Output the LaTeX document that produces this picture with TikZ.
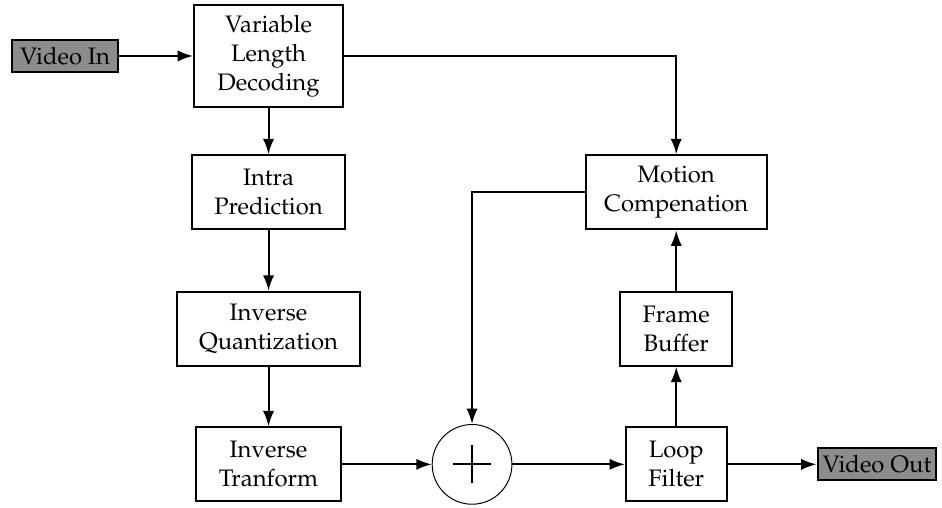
\documentclass[tikz,border=0pt]{standalone}
\usepackage[T1]{fontenc}
\usepackage{mathpazo}
\usepackage{tikz}
\usetikzlibrary{arrows, arrows.meta}

\tikzset{
  block/.style={draw, line width=0.8pt, align=center, minimum height=1.06cm, inner sep=1pt,
    font=\fontsize{9.7}{11.8}\selectfont},
  iobox/.style={draw, line width=0.8pt, fill=black!45, minimum height=0.46cm, inner sep=1pt,
    font=\fontsize{9.7}{11.8}\selectfont},
  link/.style={line width=0.8pt, ->, >={Latex[length=2.2mm,width=1.6mm]}}
}

\begin{document}
\begin{tikzpicture}
\useasboundingbox (0,0) rectangle (13.47,-7.26);

%decoding chain
\node[iobox, minimum width=1.52cm] (vin) at (0.93,-0.80) {Video In};
\node[block, minimum width=2.13cm, minimum height=1.46cm] (vld) at (3.84,-0.80) {Variable\\Length\\Decoding};
\node[block, minimum width=2.19cm] (intra) at (3.84,-2.75) {Intra\\Prediction};
\node[block, minimum width=2.62cm] (iq) at (3.84,-4.70) {Inverse\\Quantization};
\node[block, minimum width=2.07cm] (it) at (3.84,-6.64) {Inverse\\Tranform};

%sum
\node[draw, circle, line width=0.4pt, minimum size=1.14cm] (sum) at (6.75,-6.64) {};
\draw[line width=0.9pt] ([xshift=-0.27cm]sum.center) -- ([xshift=0.27cm]sum.center);
\draw[line width=0.9pt] ([yshift=-0.27cm]sum.center) -- ([yshift=0.27cm]sum.center);

%reconstruction loop
\node[block, minimum width=1.44cm] (lf) at (9.67,-6.64) {Loop\\Filter};
\node[block, minimum width=1.60cm] (fb) at (9.67,-4.70) {Frame\\Buffer};
\node[block, minimum width=2.59cm] (mc) at (9.67,-2.75) {Motion\\Compenation};
\node[iobox, minimum width=1.70cm] (vout) at (12.54,-6.64) {Video Out};

%arrows
\draw[link] (vin) -- (vld);
\draw[link] (vld) -- (intra);
\draw[link] (intra) -- (iq);
\draw[link] (iq) -- (it);
\draw[link] (it) -- (sum);
\draw[link] (sum) -- (lf);
\draw[link] (lf) -- (vout);
\draw[link] (lf) -- (fb);
\draw[link] (fb) -- (mc);
\draw[link] (vld.east) -- (mc.north |- vld.east) -- (mc.north);
\draw[link] (mc.west) -- (sum.north |- mc.west) -- (sum.north);

\end{tikzpicture}
\end{document}
